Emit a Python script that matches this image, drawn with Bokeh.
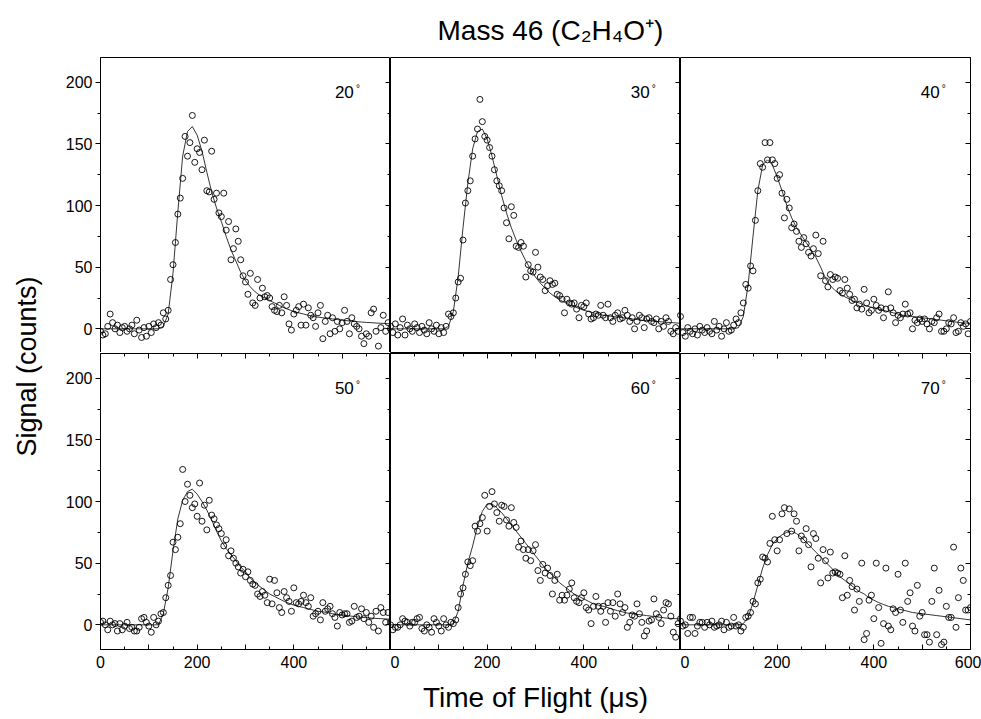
from math import pi
from bokeh.plotting import figure
from bokeh.layouts import gridplot, row
from bokeh.models import Range1d, LinearAxis, FixedTicker, Label
from bokeh.embed import file_html
from bokeh.resources import INLINE

# ---------------- data ----------------
TITLE = "Mass 46 (C\u2082H\u2084O\u207a)"
X_LABEL = "Time of Flight (\u03bcs)"
Y_LABEL = "Signal (counts)"
ANGLES = ["20", "30", "40", "50", "60", "70"]

TOF_US = list(range(0, 601, 5))        # channel times of the measured points
FIT_TOF_US = list(range(0, 601, 10))   # times at which the fit curve is listed

SIG_20 = [-2, -5, -4, 2, 12, 5, 0, 3, -3, 1,
          2, -2, 0, 3, -4, 7, -1, -7, 1, -6,
          2, -3, 4, 1, 5, 3, 13, 8, 15, 40,
          52, 70, 93, 106, 122, 156, 140, 151, 173, 135,
          146, 143, 129, 153, 112, 111, 144, 105, 110, 94,
          91, 110, 80, 87, 56, 65, 81, 71, 56, 43,
          38, 28, 45, 21, 19, 40, 25, 33, 26, 27,
          25, 18, 15, 14, 19, 13, 26, 19, 4, -1,
          12, 15, 18, 3, 20, 3, 17, 11, 9, 2,
          13, 19, -8, 6, 11, -4, 9, -2, 6, 0,
          5, 15, 6, -4, 9, 4, 2, 0, -6, -12,
          -4, -6, 13, 16, -2, -14, 1, 11, -2, 5,
          0]
SIG_30 = [2, -3, 4, -5, 1, 8, -5, 3, 0, -2,
          4, 1, -3, 2, -1, -4, 5, 0, -2, 3,
          -4, 1, -3, 2, 12, 10, 13, 25, 38, 41,
          72, 102, 112, 120, 140, 154, 162, 186, 168, 156,
          153, 147, 140, 129, 120, 116, 112, 98, 86, 73,
          99, 92, 67, 66, 70, 67, 42, 52, 47, 46,
          62, 50, 42, 40, 31, 35, 39, 36, 37, 28,
          27, 24, 13, 24, 21, 20, 21, 16, 9, 19,
          18, 21, 12, 8, 9, 12, 11, 19, 11, 9,
          20, 9, 6, 11, 13, 8, 9, 15, 11, 6,
          9, 0, 6, 11, 9, 1, 8, 9, 6, 5,
          8, 0, 6, 2, 9, 6, -2, -4, 1, -2,
          11]
SIG_40 = [10, -3, -6, 1, -2, -4, 0, -5, 2, -1,
          -3, 1, -2, -4, 6, -1, 2, -6, 0, 5,
          -2, -1, 3, 8, 5, 13, 21, 36, 33, 51,
          47, 88, 112, 134, 131, 151, 137, 151, 137, 134,
          122, 125, 110, 90, 105, 98, 82, 85, 79, 71,
          66, 74, 69, 62, 59, 65, 76, 61, 43, 71,
          39, 34, 44, 40, 42, 41, 31, 29, 40, 33,
          28, 23, 24, 17, 20, 16, 32, 21, 13, 15,
          24, 19, 15, 17, 9, 16, 30, 17, 13, 5,
          11, 9, 12, 20, 12, 13, 0, 7, 5, 8,
          6, 8, 4, 0, 6, 5, 9, 12, -2, -2,
          0, 5, 4, 9, -3, -2, 5, 2, 4, -4,
          6]
SIG_50 = [2, 3, 0, -4, 3, 0, 1, -5, 1, -4,
          -1, 2, -3, -2, -5, -5, -2, 5, 6, 2,
          -1, -6, 6, 0, 3, 9, 10, 22, 32, 40,
          67, 61, 71, 82, 126, 100, 114, 105, 95, 98,
          88, 115, 84, 97, 77, 101, 89, 86, 81, 78,
          74, 64, 69, 56, 60, 54, 50, 47, 42, 45,
          39, 43, 36, 33, 32, 25, 23, 27, 24, 18,
          37, 17, 36, 26, 14, 10, 27, 22, 19, 11,
          30, 18, 17, 19, 24, 18, 15, 22, 7, 9,
          11, 4, 18, 11, 13, 15, 9, 6, -1, 10,
          8, 9, 9, 2, 3, 15, 6, 7, 13, 5,
          10, 2, 7, -2, 11, -5, 14, 10, 2, 10,
          2]
SIG_60 = [0, -4, -2, -2, 0, 5, 3, 2, -1, 2,
          2, 5, 6, -3, -5, 0, -2, -6, 5, 2,
          -1, -5, 5, 0, -2, 2, 1, 4, 14, 25,
          30, 41, 51, 48, 52, 80, 76, 82, 87, 105,
          76, 96, 108, 98, 91, 84, 97, 96, 85, 80,
          95, 83, 79, 63, 68, 61, 54, 61, 52, 60,
          65, 44, 36, 49, 42, 46, 40, 25, 36, 41,
          20, 24, 20, 24, 29, 34, 22, 19, 18, 22,
          26, 14, 12, 1, 15, 23, 15, 11, 15, 2,
          18, 11, 18, 7, 25, 17, 10, 14, -2, 2,
          8, 7, 17, 9, 2, -9, -5, 3, 4, 21,
          9, 6, 1, 12, 18, 17, 7, -6, -10, 1,
          5]
SIG_70 = [3, -1, 0, -7, 6, 6, -7, -1, 2, 2,
          -2, 2, 0, 3, -2, -1, 0, 3, -4, 2,
          -2, -1, 6, -1, 0, -5, -2, 6, 7, 10,
          19, 17, 34, 37, 55, 54, 51, 66, 88, 69,
          60, 69, 90, 95, 74, 94, 76, 90, 84, 60,
          72, 69, 78, 65, 47, 74, 70, 54, 34, 61,
          52, 38, 59, 42, 43, 42, 41, 22, 56, 24,
          36, 31, 12, 29, 19, 50, -12, -7, 20, 24,
          5, 50, 14, -15, 1, 46, -1, -4, 13, 10,
          41, 12, 2, 50, 19, 26, -1, -5, 32, 7,
          10, -8, -8, -14, 19, 46, -8, 28, -16, -14,
          15, 6, 6, 63, -2, 22, 46, 36, 12, 12,
          14]

FIT_20 = [0, 0, 0, 0, 0, 0, 0, 0, 0, 0,
          0, 0, 0, 2, 12, 45, 95, 140, 160, 164,
          157, 144, 127, 111, 98, 87, 75, 64, 55, 46,
          39, 34, 30, 27, 25, 23, 21, 19, 17, 15.5,
          14, 13, 12, 11, 10, 9.5, 9, 8.5, 8, 7.5,
          7, 6.6, 6.2, 5.8, 5.5, 5.2, 5, 4.7, 4.5, 4.3,
          4]
FIT_30 = [0, 0, 0, 0, 0, 0, 0, 0, 0, 0,
          0, 0, 2, 14, 42, 82, 118, 146, 160, 162,
          154, 140, 124, 108, 94, 82, 72, 63, 55, 48,
          42, 37, 33, 29, 26, 23.5, 21.5, 19.5, 18, 16.5,
          15, 14, 13, 12, 11, 10.5, 10, 9.5, 9, 8.5,
          8, 7.5, 7, 6.7, 6.4, 6, 5.7, 5.4, 5.1, 4.8,
          4.5]
FIT_40 = [0, 0, 0, 0, 0, 0, 0, 0, 0, 0,
          0, 0, 1, 10, 36, 75, 112, 133, 137, 133,
          123, 112, 100, 90, 82, 76, 70, 64, 58, 50,
          41, 35, 31, 28, 26, 24, 22, 21, 19, 18,
          17, 16, 15, 14, 13, 12, 11, 10.5, 10, 9.5,
          9, 8.5, 8, 7.5, 7, 6.5, 6, 5.5, 5, 4.7,
          4.5]
FIT_50 = [0, 0, 0, 0, 0, 0, 0, 0, 0, 0,
          0, 0, 0, 9, 30, 60, 86, 101, 108, 110,
          106, 100, 93, 85, 76, 68, 62, 57, 52, 47,
          43, 38, 34, 31, 28, 25, 23, 21, 19, 17.5,
          16, 15, 14, 13, 12, 11, 10.5, 10, 9, 8.5,
          8, 7.5, 7, 6.5, 6, 5.8, 5.5, 5.2, 5, 4.8,
          4.5]
FIT_60 = [0, 0, 0, 0, 0, 0, 0, 0, 0, 0,
          0, 0, 0, 1, 11, 32, 50, 64, 80, 92,
          98, 98, 95, 91, 86, 81, 76, 71, 66, 61,
          56, 51, 46, 42, 38, 34, 31, 28, 25, 23,
          21, 19, 17, 16, 15, 14, 12.5, 11.5, 10.5, 9.5,
          9, 8.5, 8, 7.5, 7, 6.5, 6, 5.5, 5.2, 5,
          4.8]
FIT_70 = [0, 0, 0, 0, 0, 0, 0, 0, 0, 0,
          0, 0, 0, 1, 6, 18, 32, 46, 57, 65,
          70, 73, 75, 76, 74, 71, 67, 63, 59, 55,
          51, 47, 43, 39, 36, 33, 30, 27, 25, 22,
          20, 18, 16.5, 15, 14, 13, 12, 11, 10, 9.5,
          9, 8.5, 8, 7.5, 7, 6.5, 6, 5.5, 5, 4.5,
          4]

X_MAJOR = [0, 100, 200, 300, 400, 500, 600]
X_MINOR = [50, 150, 250, 350, 450, 550]
X_LABELED = ["0", "200", "400", "600"]
Y_MAJOR = [0, 50, 100, 150, 200]
Y_MINOR = [25, 75, 125, 175]

SIGNALS = [SIG_20, SIG_30, SIG_40, SIG_50, SIG_60, SIG_70]
FITS = [FIT_20, FIT_30, FIT_40, FIT_50, FIT_60, FIT_70]
for s in SIGNALS:
    assert len(s) == len(TOF_US)
for f in FITS:
    assert len(f) == len(FIT_TOF_US)

# ---------------- style ----------------
FONT = "Liberation Sans"
FRAME_W, FRAME_H = 290, 296
LEFT_B, RIGHT_B_LAST, TOP_B, BOTTOM_B = 42, 11, 56, 70
YLAB_W = 58
ANGLE_X = [485, 497, 497]


def style_axis(ax):
    ax.axis_line_color = "black"
    ax.major_tick_line_color = "black"
    ax.minor_tick_line_color = "black"
    ax.major_label_text_font = FONT
    ax.major_label_text_font_size = "16px"
    ax.major_label_text_color = "black"


def tick_only_axis(ticks, minor):
    ax = LinearAxis(ticker=FixedTicker(ticks=ticks, minor_ticks=minor))
    style_axis(ax)
    ax.major_tick_out, ax.major_tick_in = 0, 5
    ax.minor_tick_out, ax.minor_tick_in = 0, 3
    ax.major_label_overrides = {t: "" for t in ticks}
    ax.major_label_text_font_size = "1px"
    ax.major_label_standoff = 0
    return ax


def make_panel(r, c, sig, fit, angle):
    bl = LEFT_B if c == 0 else 0
    br = RIGHT_B_LAST if c == 2 else 0
    bt = TOP_B if r == 0 else 0
    bb = BOTTOM_B if r == 1 else 0
    p = figure(frame_width=FRAME_W, frame_height=FRAME_H,
               x_range=Range1d(0, 600), y_range=Range1d(-20, 220),
               output_backend="svg", toolbar_location=None, tools="",
               x_axis_location=None, y_axis_location=None,
               min_border_left=bl, min_border_right=br,
               min_border_top=bt, min_border_bottom=bb)
    p.outline_line_color = "black"
    p.outline_line_width = 1
    p.background_fill_color = "white"
    p.border_fill_color = "white"
    p.xgrid.visible = False
    p.ygrid.visible = False

    # left axis (labelled, outward ticks) only on the first column
    if c == 0:
        ya = LinearAxis(ticker=FixedTicker(ticks=Y_MAJOR, minor_ticks=Y_MINOR))
        style_axis(ya)
        ya.major_tick_out, ya.major_tick_in = 5, 0
        ya.minor_tick_out, ya.minor_tick_in = 3, 0
        ya.major_label_standoff = 3
        p.add_layout(ya, "left")
    # right axis with inward ticks, no labels
    p.add_layout(tick_only_axis(Y_MAJOR, Y_MINOR), "right")

    if r == 1:
        xb = LinearAxis(ticker=FixedTicker(ticks=X_MAJOR, minor_ticks=X_MINOR))
        style_axis(xb)
        xb.major_tick_out, xb.major_tick_in = 0, 5
        xb.minor_tick_out, xb.minor_tick_in = 0, 3
        xb.major_label_standoff = 6
        shown = X_LABELED if c == 2 else X_LABELED[:-1]
        xb.major_label_overrides = {t: (str(t) if str(t) in shown else "") for t in X_MAJOR}
        if c == 1:
            xb.axis_label = X_LABEL
            xb.axis_label_text_font = FONT
            xb.axis_label_text_font_size = "28px"
            xb.axis_label_text_font_style = "normal"
            xb.axis_label_text_color = "black"
            xb.axis_label_standoff = 11
        p.add_layout(xb, "below")
        p.add_layout(tick_only_axis(X_MAJOR, X_MINOR), "above")

    if r == 0 and c == 1:
        p.title.text = TITLE
        p.title.align = "left"
        p.title.offset = 47
        p.title.text_font = FONT
        p.title.text_font_size = "28px"
        p.title.text_font_style = "normal"
        p.title.text_color = "black"
        p.title.standoff = 24

    p.line(FIT_TOF_US, fit, line_color="black", line_width=0.8)
    p.scatter(TOF_US, sig, marker="circle", size=6, fill_color=None,
              line_color="black", line_width=0.9)

    p.add_layout(Label(x=ANGLE_X[c], y=192, text=angle, text_font=FONT,
                       text_font_size="17px", text_align="left",
                       text_baseline="middle", text_color="black"))
    p.add_layout(Label(x=ANGLE_X[c], y=192, text="\u00b0", x_offset=21, y_offset=4,
                       text_font=FONT, text_font_size="10px", text_align="left",
                       text_baseline="middle", text_color="black"))
    return p


panels = []
for i in range(6):
    r, c = divmod(i, 3)
    panels.append(make_panel(r, c, SIGNALS[i], FITS[i], ANGLES[i]))

grid = gridplot([panels[0:3], panels[3:6]], toolbar_location=None)

total_h = (FRAME_H + TOP_B) + (FRAME_H + BOTTOM_B)
ylab = figure(frame_width=YLAB_W, frame_height=total_h,
              x_range=Range1d(0, YLAB_W), y_range=Range1d(0, total_h),
              output_backend="svg", toolbar_location=None, tools="",
              x_axis_location=None, y_axis_location=None, min_border=0)
ylab.outline_line_color = None
ylab.xgrid.visible = False
ylab.ygrid.visible = False
ylab.add_layout(Label(x=26, y=total_h - 366, text=Y_LABEL, angle=pi / 2,
                      text_align="center", text_baseline="middle",
                      text_font=FONT, text_font_size="27px", text_color="black"))

layout = row(ylab, grid)
open("out.html", "w").write(file_html(layout, INLINE))
